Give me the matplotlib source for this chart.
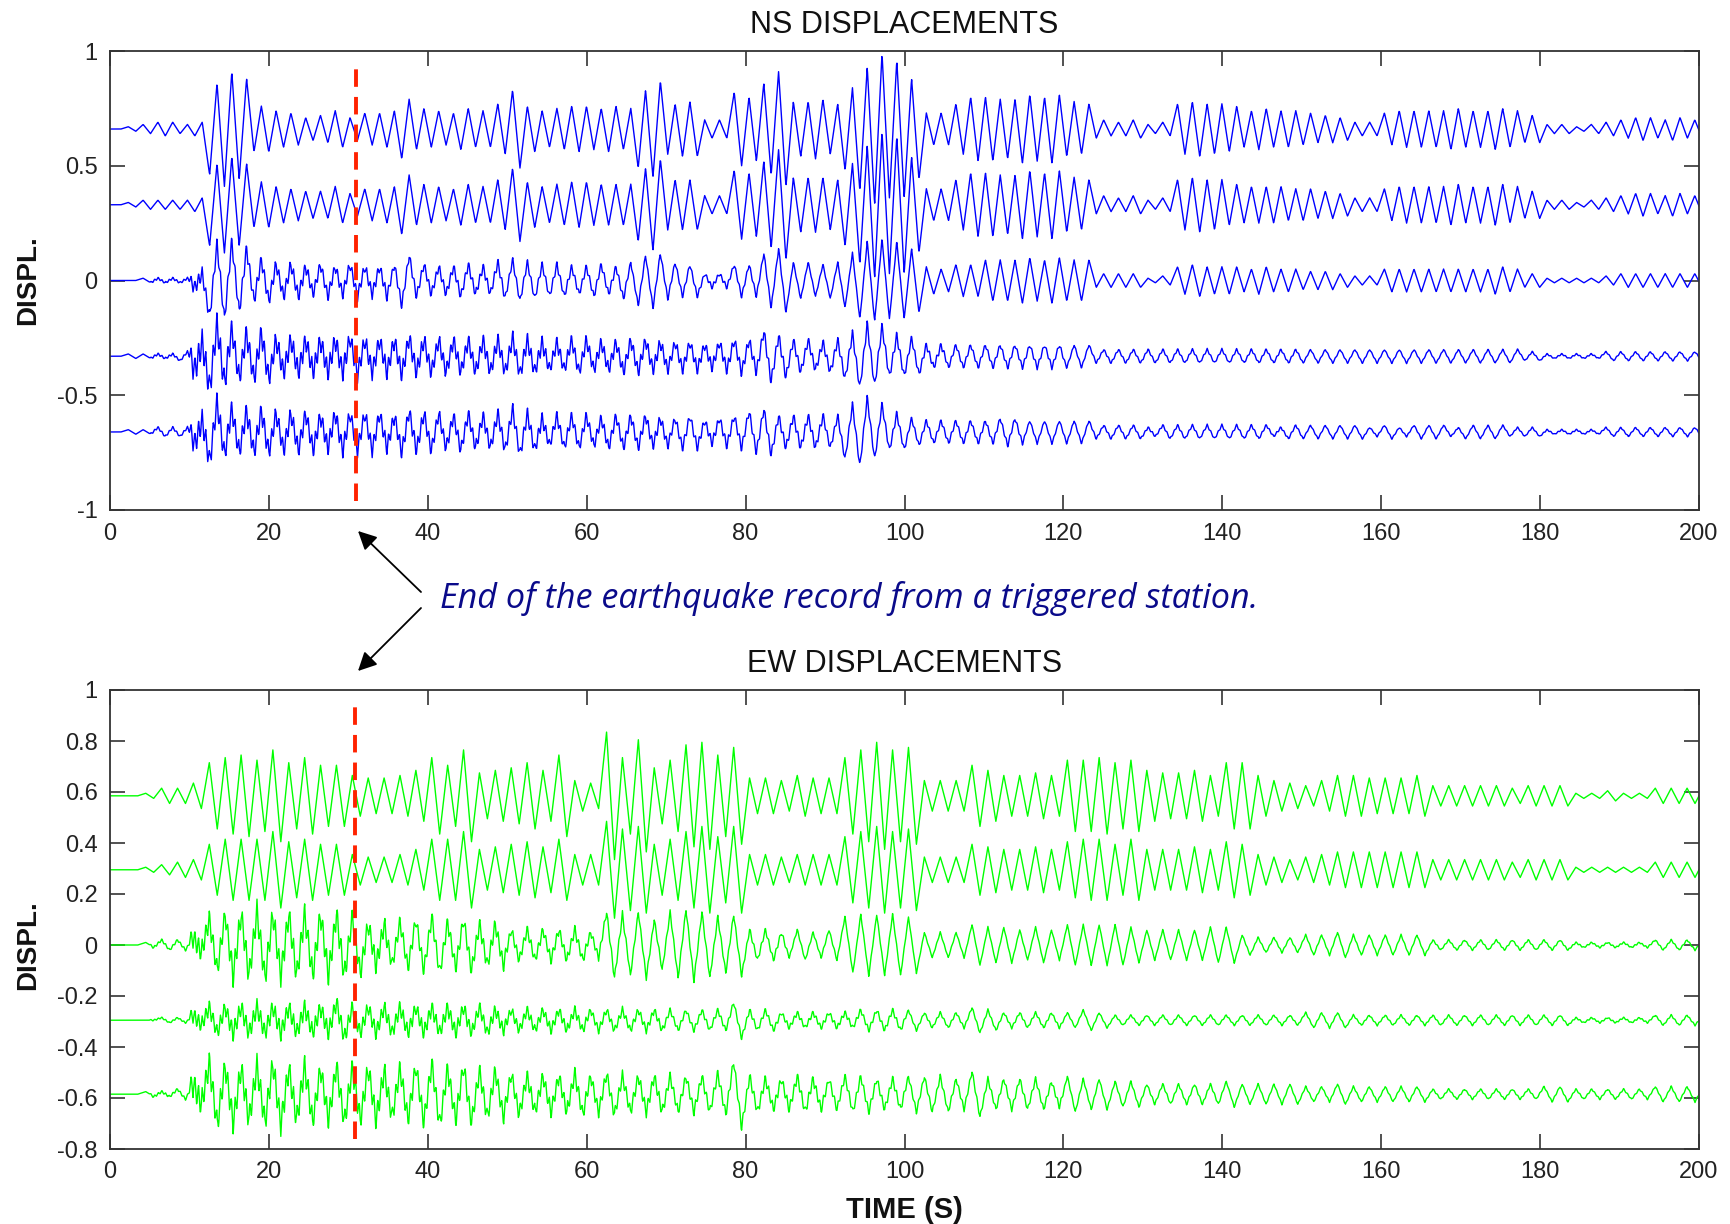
import numpy as np
import matplotlib
matplotlib.use("Agg")
import matplotlib.pyplot as plt
from matplotlib.ticker import FixedLocator

plt.rcParams['font.family'] = ['Liberation Sans', 'DejaVu Sans']
plt.rcParams['axes.unicode_minus'] = False

# ---------------- data ----------------
# envelope of the main (~2 s) oscillation, per 2-second bin, in units of 0.01
ns_baselines = [0.66, 0.33, 0.0, -0.33, -0.66]
ew_baselines = [0.585, 0.295, 0.0, -0.295, -0.585]

ns1 = [0,1,2,3,2,3,20,25,22,10, 8,7,5,6,8,5,7,8,13,9, 8,7,9,8,11,17,10,8,9,10,
       9,10,9,17,21,11,12,4,4,16, 14,20,25,12,13,11,18,27,33,30, 22,7,7,11,14,14,13,15,14,15,
       12,11,4,3,4,2,3,11,12,11, 10,8,9,8,8,7,6,5,3,3, 7,8,8,8,9,8,8,9,8,6, 2,2,1,2,3,4,5,4,5,4]
ns2 = [0,1,2,2,2,3,18,21,18,10, 8,7,6,6,8,5,7,8,13,9, 8,7,9,8,11,16,10,8,9,10,
       9,9,9,16,20,11,11,4,4,15, 14,19,24,12,12,11,18,26,32,30, 21,7,7,11,14,14,13,15,14,15,
       12,11,4,3,4,2,3,11,12,11, 9,8,8,8,7,7,6,5,3,3, 7,8,8,8,9,8,8,9,8,6, 2,2,1,2,3,4,5,4,5,4]
ns3 = [0,0,1,1,1,3,16,17,14,9, 7,7,6,7,6,7,6,7,11,7, 6,6,7,6,8,9,8,7,7,6,
       7,6,8,11,12,8,7,3,3,7, 7,12,14,8,7,8,12,17,18,17, 14,6,5,7,7,9,9,10,9,10,
       9,9,3,3,3,1,2,6,7,6, 6,5,6,5,5,4,4,3,2,2, 5,5,5,5,5,5,5,6,5,3, 1,1,1,1,2,3,3,3,3,3]
ns4 = [0,1,1,1,2,6,14,12,10,10, 7,7,7,7,7,8,7,7,8,7, 7,7,7,7,7,8,7,6,6,7,
       6,6,7,7,6,6,6,5,6,7, 7,11,9,7,6,7,10,14,13,9, 8,5,5,5,5,5,5,5,5,5,
       5,5,3,3,3,3,3,3,3,3, 3,3,3,3,3,3,3,3,3,3, 3,3,3,3,3,3,3,3,3,2, 1,1,1,1,2,2,2,2,2,2]
ns5 = [0,1,1,2,2,5,13,10,9,9, 8,8,8,7,8,8,8,7,9,8, 8,7,8,7,8,10,8,6,7,7,
       6,7,7,7,6,6,7,5,6,7, 9,10,7,7,7,7,12,15,12,8, 6,5,5,5,5,5,6,5,5,5,
       5,5,3,3,3,2,3,3,3,3, 3,3,3,2,3,3,3,3,3,2, 3,2,3,3,2,3,3,3,2,2, 1,1,1,1,2,2,2,2,2,2]

ew1 = [0,0,1,3,3,5,13,15,16,14, 18,13,15,12,12,8,7,7,8,10, 15,12,18,9,10,11,13,10,16,6,
       5,25,15,22,11,14,20,21,16,19, 7,7,6,8,7,7,15,18,21,18, 19,6,6,6,12,10,8,8,9,8,
       14,14,15,13,14,10,9,9,10,8, 13,13,8,6,5,4,6,8,8,7, 7,7,8,4,4,4,4,4,3,4, 4,4,1,1,2,1,1,3,3,3]
ew2 = [0,0,1,2,3,4,10,12,12,12, 15,11,12,10,10,6,5,5,6,8, 12,12,15,8,9,10,11,9,12,6,
       6,19,16,17,10,12,15,17,13,17, 6,6,5,6,6,6,13,15,17,15, 16,5,5,5,10,9,8,8,9,8,
       11,12,12,10,12,8,8,8,9,8, 11,10,6,5,4,5,6,7,7,7, 7,7,7,4,4,4,4,4,3,4, 4,4,1,1,1,1,1,3,3,3]
ew3 = [0,0,1,2,2,3,10,12,12,13, 12,12,12,12,12,11,8,8,9,10, 11,9,10,8,8,6,6,6,6,6,
       5,13,12,13,10,13,14,13,11,12, 6,6,5,6,5,6,11,12,12,12, 11,5,5,5,8,7,7,6,7,6,
       8,8,8,8,7,6,6,6,6,7, 7,4,3,3,3,4,4,5,4,4, 4,4,4,2,2,2,2,2,2,2, 2,2,1,1,1,1,1,2,2,2]
ew4 = [0,0,0,1,1,2,5,5,5,5, 5,5,5,5,7,5,5,5,5,5, 5,5,5,5,4,4,4,4,4,4,
       4,4,4,4,4,4,4,4,4,7, 4,4,3,3,3,3,3,4,4,4, 4,3,3,3,5,4,3,3,3,3,
       3,4,3,2,2,2,2,2,2,2, 2,2,2,2,2,3,3,3,2,2, 2,2,2,2,2,2,2,2,2,2, 2,2,1,1,1,1,1,2,2,2]
ew5 = [0,0,1,1,2,4,12,11,10,11, 12,10,11,10,11,10,10,9,10,11, 12,10,11,9,9,8,7,7,7,8,
       7,8,7,7,7,7,7,7,8,13, 7,6,6,7,6,6,7,7,6,6, 7,7,7,6,9,6,6,6,6,5,
       7,6,6,5,5,4,4,4,4,4, 5,4,4,4,4,3,3,4,3,3, 3,3,3,2,2,2,2,2,2,2, 3,3,2,2,2,2,2,3,3,3]

# envelope of the high-frequency roughness, per 5-second bin, in units of 0.01
ns_rough = [
    [0]*40,
    [0]*40,
    [0,0.5,3,3,3,2.5,2.5,2,2,2,1.5,1.5,1.5,1,1,1,1,0.5,0.5,0.5] + [0]*20,
    [0,0.5,6,5,4.5,4.5,4,4,3.5,3.5,3.5,3,3,3,2.5,2.5,2.5,2,2,2,1.5,1,1,1,0.5,0.5,0.5,0.5,0.5,0.5] + [0.3]*10,
    [0,0.5,5,4.5,4,4,3.5,3.5,3,3,3,2.5,2.5,2.5,2,2,2,2,1.5,1.5,1,1,1,0.5,0.5,0.5,0.5,0.5,0.5,0.5] + [0.3]*10,
]
ew_rough = [
    [0]*40,
    [0]*40,
    [0,0.5,4,5,5,5,4,3,3,3,2,2,1.5,1,1,1,1,0.5,0.5,0.5] + [0.3]*20,
    [0,0.3,3,3.5,3.5,3.5,3,3,3,2.5,2,2,1.5,1.5,1,1,1,1,1,1,0.5,0.5,0.5,0.5] + [0.3]*16,
    [0,0.5,5,5,5,4.5,4.5,4,4,3.5,3,3,2.5,2.5,2,2,2,2,1.5,1.5,1,1,1,1,0.5,0.5,0.5,0.5] + [0.3]*12,
]

ns_env = [ns1, ns2, ns3, ns4, ns5]
ew_env = [ew1, ew2, ew3, ew4, ew5]

ns_half_period = 0.93   # s
ew_half_period = 1.0    # s
rough_half_period = 0.23
end_of_record = [31.0, 30.8]   # red dashed marker (s)
x_ticks = list(range(0, 201, 20))
ns_yticks = [-1, -0.5, 0, 0.5, 1]
ns_ylabels = ['-1', '-0.5', '0', '0.5', '1']
ew_yticks = [-0.8, -0.6, -0.4, -0.2, 0, 0.2, 0.4, 0.6, 0.8, 1]
ew_ylabels = ['-0.8', '-0.6', '-0.4', '-0.2', '0', '0.2', '0.4', '0.6', '0.8', '1']

# ---------------- build traces ----------------
t = np.arange(0, 200.0001, 0.05)


def zigzag(env, bin_w, half, t0):
    k = np.arange(int((200 - t0) / half) + 3)
    tk = t0 + k * half
    sign = np.where(k % 2 == 0, 1.0, -1.0)
    idx = np.clip((tk // bin_w).astype(int), 0, len(env) - 1)
    ak = sign * np.asarray(env, float)[idx] * 0.01
    tk = np.concatenate([[0.0], tk])
    ak = np.concatenate([[0.0], ak])
    return np.interp(t, tk, ak)


def trace(env, rough, half, t0):
    return zigzag(env, 2.0, half, t0) + zigzag(rough, 5.0, rough_half_period, 0.1)


fig = plt.figure(figsize=(17.3, 12.24), dpi=100)
W, H = 1730, 1224
ax1 = fig.add_axes([110 / W, 1 - 510 / H, 1589 / W, 459 / H])
ax2 = fig.add_axes([110 / W, 1 - 1149 / H, 1589 / W, 459 / H])

for b, env, r in zip(ns_baselines, ns_env, ns_rough):
    ax1.plot(t, b + trace(env, r, ns_half_period, 0.45), color='#0000ff', lw=1.0)
for b, env, r in zip(ew_baselines, ew_env, ew_rough):
    ax2.plot(t, b + trace(env, r, ew_half_period, 0.5), color='#00ff00', lw=1.0)

ax1.plot([end_of_record[0]] * 2, [-0.96, 0.94], color='#ff2200', lw=2.8,
         dashes=(4.5, 2.6), zorder=5)
ax2.plot([end_of_record[1]] * 2, [-0.76, 0.95], color='#ff2200', lw=2.8,
         dashes=(4.5, 2.6), zorder=5)

for ax, yt, yl, ylim, title in [
        (ax1, ns_yticks, ns_ylabels, (-1, 1), 'NS DISPLACEMENTS'),
        (ax2, ew_yticks, ew_ylabels, (-0.8, 1), 'EW DISPLACEMENTS')]:
    ax.set_xlim(0, 200)
    ax.set_ylim(*ylim)
    ax.xaxis.set_major_locator(FixedLocator(x_ticks))
    ax.set_xticklabels([str(v) for v in x_ticks])
    ax.yaxis.set_major_locator(FixedLocator(yt))
    ax.set_yticklabels(yl)
    ax.tick_params(direction='in', length=11, width=1.2, top=True, right=True,
                   labelsize=17, pad=9, color='#333333', labelcolor='#222222')
    for s in ax.spines.values():
        s.set_linewidth(1.3)
        s.set_color('#333333')
    ax.set_title(title, fontsize=22, pad=13, color='#111111')
    ax.set_ylabel('DISPL.', fontsize=20, fontweight='bold', color='#111111')

ax1.yaxis.set_label_coords(-0.0435, 0.5)
ax2.yaxis.set_label_coords(-0.0435, 0.444)
ax2.set_xlabel('TIME (S)', fontsize=21, fontweight='bold', color='#111111', labelpad=9)

# annotation
fig.text(440 / W, 1 - 598 / H, 'End of the earthquake record from a triggered station.',
         family=['Open Sans', 'DejaVu Sans'], style='italic', fontsize=24.6, color='#0a0a8a',
         va='center', ha='left')
for tip in [(358, 531), (358, 671)]:
    tail = (421, 592) if tip[1] < 600 else (421, 608)
    fig.add_artist(matplotlib.patches.FancyArrowPatch(
        (tail[0] / W, 1 - tail[1] / H), (tip[0] / W, 1 - tip[1] / H),
        transform=fig.transFigure, arrowstyle='-|>', mutation_scale=28,
        color='black', lw=1.3, shrinkA=0, shrinkB=0))

fig.savefig('out.png', dpi=100, facecolor='white')
